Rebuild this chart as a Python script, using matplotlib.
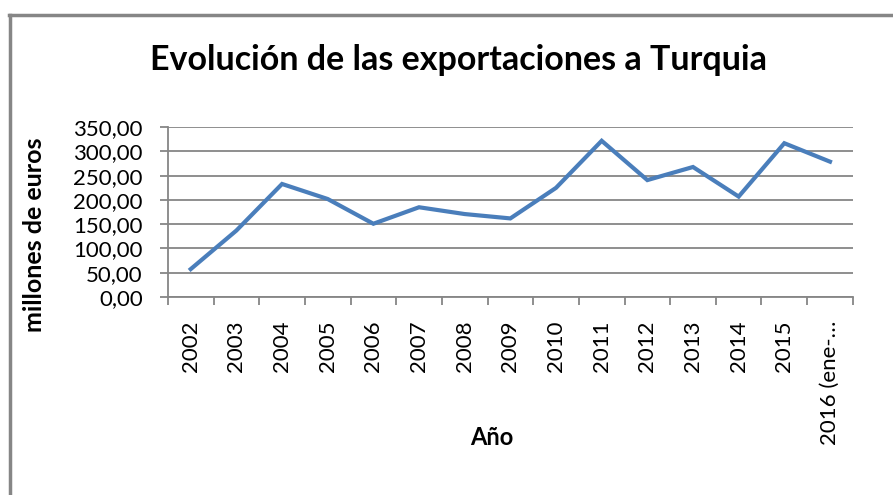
import matplotlib
matplotlib.use("Agg")
import matplotlib.pyplot as plt
from matplotlib.lines import Line2D
from matplotlib.ticker import FixedLocator, FuncFormatter
import numpy as np

plt.rcParams['font.family'] = ['Lato', 'DejaVu Sans']

# data
years = ['2002', '2003', '2004', '2005', '2006', '2007', '2008', '2009',
         '2010', '2011', '2012', '2013', '2014', '2015', '2016 (ene-…']
exports = [57.5, 137, 233, 202, 151, 185, 171, 162,
           225, 322, 241, 268, 207, 317, 279]
yticks = [0, 50, 100, 150, 200, 250, 300, 350]

grey = '#868686'
blue = '#4A7EBB'

fig = plt.figure(figsize=(8.93, 4.95), dpi=100)
ax = fig.add_axes([0.188, 0.40, 0.767, 0.343])

x = np.arange(len(years))
ax.plot(x, exports, color=blue, lw=3.0, solid_joinstyle='miter', zorder=3)

ax.set_xlim(-0.5, len(years) - 0.5)
ax.set_ylim(0, 350)

# y axis: gridlines at every tick, comma decimals
ax.set_yticks(yticks)
ax.yaxis.set_major_formatter(FuncFormatter(lambda v, p: f'{v:.2f}'.replace('.', ',')))
ax.grid(axis='y', color=grey, lw=1.3)
ax.set_axisbelow(True)

# x axis: tick marks between categories, labels at the centres
ax.xaxis.set_major_locator(FixedLocator(np.arange(len(years) + 1) - 0.5))
ax.xaxis.set_major_formatter(FuncFormatter(lambda v, p: ''))
ax.xaxis.set_minor_locator(FixedLocator(x))
ax.set_xticklabels(years, minor=True, rotation=90, va='top')
ax.tick_params(axis='x', which='minor', length=0, pad=17, labelsize=16)
ax.tick_params(axis='x', which='major', length=6, width=1.3, color=grey)
ax.tick_params(axis='y', length=6, width=1.3, color=grey, labelsize=16, pad=12)

for s in ['top', 'right']:
    ax.spines[s].set_visible(False)
for s in ['left', 'bottom']:
    ax.spines[s].set_color(grey)
    ax.spines[s].set_linewidth(1.3)

fig.text(0.513, 0.879, 'Evolución de las exportaciones a Turquia',
         ha='center', va='center', fontsize=24.5, fontweight='bold')
fig.text(0.039, 0.525, 'millones de euros', rotation=90,
         ha='center', va='center', fontsize=18, fontweight='bold')
fig.text(0.551, 0.117, 'Año', ha='center', va='center',
         fontsize=17, fontweight='bold')

# chart frame (only top and left edges visible in the crop)
fig.add_artist(Line2D([0.010, 1.0], [0.970, 0.970], color=grey, lw=2.5,
                      transform=fig.transFigure))
fig.add_artist(Line2D([0.011, 0.011], [0.0, 0.970], color=grey, lw=2.5,
                      transform=fig.transFigure))

fig.savefig('out.png', dpi=100)
